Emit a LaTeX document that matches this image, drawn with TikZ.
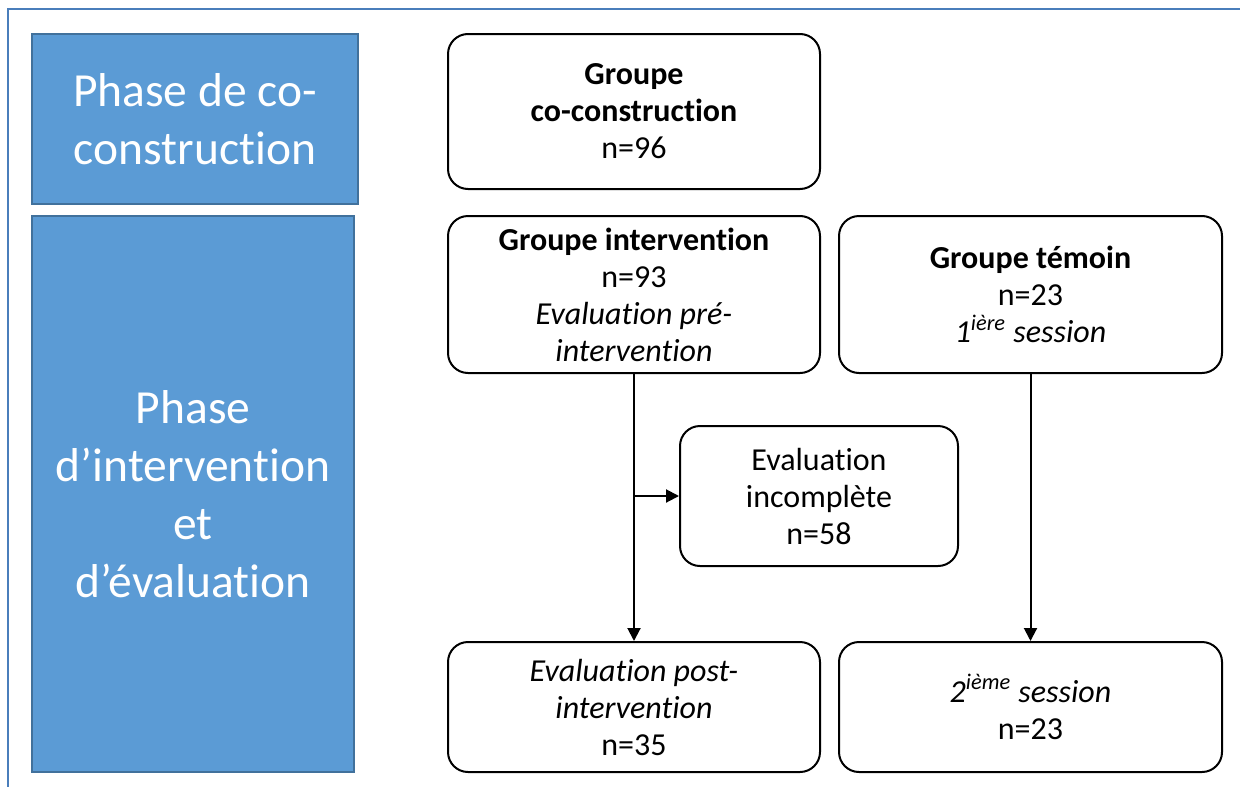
\documentclass[tikz,border=0pt]{standalone}
\usepackage{fontspec}
\setmainfont[Ligatures=NoCommon]{Carlito}
\usepackage{tikz}
\usetikzlibrary{arrows.meta}

\definecolor{phasefill}{HTML}{5B9BD5}
\definecolor{phaseline}{HTML}{41719C}
\definecolor{framecol}{HTML}{4A7EBB}

\begin{document}
\begin{tikzpicture}[x=0.5pt, y=-0.5pt,
    phase/.style={rectangle, draw=phaseline, line width=1pt, fill=phasefill, text=white,
      align=center, inner sep=0pt, font=\fontsize{23.75}{29}\selectfont},
    group/.style={rectangle, rounded corners=10pt, draw, line width=1pt, align=center,
      inner sep=0pt, font=\fontsize{16}{18.5}\selectfont},
    link/.style={line width=1pt, -{Triangle[length=6.5pt, width=6.5pt]}}]
  \useasboundingbox (0,0) rectangle (1240,787);
  \draw[framecol, line width=1.2pt] (1240,9) -- (8,9) -- (8,787);
  \node (phase1) [phase, minimum width=163pt, minimum height=85pt] at (195,119) {Phase de co-\\construction};
  \node (phase2) [phase, minimum width=161pt, minimum height=278pt] at (193,494) {Phase\\d'intervention\\et\\d'évaluation};
  \node (coco) [group, minimum width=186pt, minimum height=77.5pt] at (634,111.5) {\textbf{Groupe}\\\textbf{co-construction}\\n=96};
  \node (interv) [group, minimum width=186pt, minimum height=78.5pt] at (634,294.5) {\textbf{Groupe intervention}\\n=93\\\textit{Evaluation pré-}\\\textit{intervention}};
  \node (temoin) [group, minimum width=191.5pt, minimum height=78.5pt] at (1030.5,294.5) {\textbf{Groupe témoin}\\n=23\\\textit{1\textsuperscript{ière} session}};
  \node (incompl) [group, minimum width=139pt, minimum height=70pt] at (819,496) {Evaluation\\incomplète\\n=58};
  \node (post) [group, minimum width=186pt, minimum height=65pt] at (634,707) {\textit{Evaluation post-}\\\textit{intervention}\\n=35};
  \node (session2) [group, minimum width=191.5pt, minimum height=65pt] at (1030.5,707) {\textit{2\textsuperscript{ième} session}\\n=23};
  \coordinate (branch) at (634,496);
  \draw[link] (interv) -- (post);
  \draw[link] (branch) -- (incompl);
  \draw[link] (temoin) -- (session2);
\end{tikzpicture}
\end{document}
